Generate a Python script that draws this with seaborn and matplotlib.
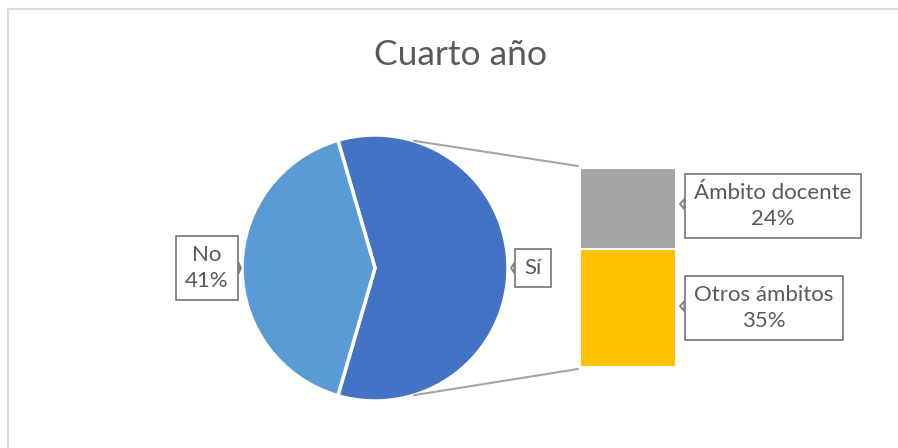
import numpy as np
import seaborn as sns
import matplotlib.pyplot as plt
from matplotlib.lines import Line2D

# Datos
titulo = "Cuarto año"
main_labels = ["Sí", "No"]
main_values = [59, 41]
sub_labels = ["Ámbito docente", "Otros ámbitos"]
sub_values = [24, 35]

main_colors = ["#4472C4", "#5B9BD5"]
sub_colors = ["#A5A5A5", "#FFC000"]
txt_color = "#595959"

sns.set_theme(style="white")
plt.rcParams['font.family'] = ['Lato', 'DejaVu Sans']

W, H = 898, 448
fig = plt.figure(figsize=(W / 100, H / 100), dpi=100)
ax = fig.add_axes([0, 0, 1, 1])

# geometria (pixeles, y hacia arriba)
cx, cy, r = 375, 180, 133
bar_x, bar_w, bar_bottom = 628, 96, 81
scale = 199 / sum(sub_values)

si_frac = main_values[0] / sum(main_values)
wedges, _ = ax.pie(main_values, colors=main_colors, center=(cx, cy), radius=r,
                   startangle=-si_frac * 180, counterclock=True,
                   wedgeprops=dict(edgecolor="white", linewidth=2.5))

# barra apilada (de abajo hacia arriba: Otros, Ámbito)
bottom = bar_bottom
tops = {}
for lab, val, col in zip(sub_labels[::-1], sub_values[::-1], sub_colors[::-1]):
    h = val * scale
    ax.bar(bar_x, h, width=bar_w, bottom=bottom, color=col,
           edgecolor="white", linewidth=1.5, align="center")
    tops[lab] = (bottom, bottom + h)
    bottom += h

# lineas de conexion
ang = np.deg2rad(73)
left = bar_x - bar_w / 2 - 2
ax.plot([cx + r * np.cos(ang), left], [cy + r * np.sin(ang), bottom + 2],
        color="#A5A5A5", lw=1.5)
ax.plot([cx + r * np.cos(ang), left], [cy - r * np.sin(ang), bar_bottom - 2],
        color="#A5A5A5", lw=1.5)

box = dict(boxstyle="square,pad=0.42", fc="white", ec="#7F7F7F", lw=1.3)
arrow = dict(arrowstyle="wedge,tail_width=0.45,shrink_factor=0.5", fc="white",
             ec="#7F7F7F", lw=1.3, shrinkA=0, shrinkB=0)
fs = 16

# etiquetas del pie
ax.annotate(f"{main_labels[1]}\n{main_values[1]}%", xy=(cx - r - 1, cy),
            xytext=(cx - 168, cy), ha="center", va="center", fontsize=fs,
            color=txt_color, bbox=box, arrowprops=arrow, linespacing=1.35)
ax.annotate(main_labels[0], xy=(cx + r + 3, cy),
            xytext=(cx + 158, cy), ha="center", va="center", fontsize=fs,
            color=txt_color, bbox=box, arrowprops=arrow)

# etiquetas de la barra
for lab, val, dx, dy in zip(sub_labels, sub_values, [145, 136], [2.5, 0]):
    b, t = tops[lab]
    ym = (b + t) / 2 + dy
    ax.annotate(f"{lab}\n{val}%", xy=(bar_x + bar_w / 2 + 4, ym + 2),
                xytext=(bar_x + dx, ym), ha="center", va="center",
                fontsize=fs, color=txt_color, bbox=box, arrowprops=arrow,
                linespacing=1.35)

ax.set_xlim(0, W)
ax.set_ylim(0, H)
ax.set_aspect("equal")
ax.axis("off")

fig.text(460 / W, 1 - 55 / H, titulo, ha="center", va="center",
         fontsize=25.5, color=txt_color)

# borde del grafico
fig.add_artist(Line2D([8 / W, 1], [1 - 9 / H, 1 - 9 / H], color="#D9D9D9", lw=1.5))
fig.add_artist(Line2D([8 / W, 8 / W], [0, 1 - 9 / H], color="#D9D9D9", lw=1.5))

fig.savefig("out.png", dpi=100)
